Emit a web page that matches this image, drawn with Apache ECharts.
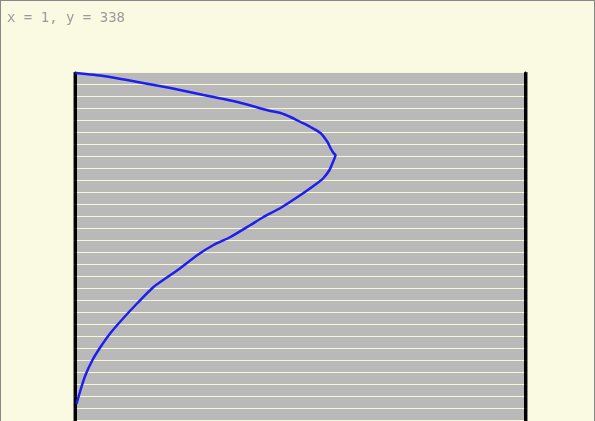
<!DOCTYPE html>
<html>
<head>
<meta charset="utf-8">
<script src="https://cdn.jsdelivr.net/npm/echarts@6/dist/echarts.min.js"></script>
<style>
html,body{margin:0;padding:0;background:#fafae2;}
#wrap{position:relative;width:595px;height:421px;}
#chart{position:absolute;left:0;top:0;width:595px;height:421px;}
#frame{position:absolute;left:0;top:0;width:593px;height:421px;border-left:1px solid #888;border-top:1px solid #888;border-right:1px solid #888;pointer-events:none;}
</style>
</head>
<body>
<div id="wrap"><div id="chart"></div><div id="frame"></div></div>
<script>
const titleText = 'x = 1, y = 338';
const curveX = [0, 28, 62, 95, 128, 162, 195, 205, 215, 225, 235, 245, 252, 255, 258, 260, 257, 254, 248, 242, 228, 205, 188, 175, 155, 138, 122, 105, 95, 78, 62, 48, 35, 25, 17, 10, 5, 1];
const curveY = [1, 4, 10, 16, 23, 30, 39, 41, 45, 50, 55, 61, 70, 76, 81, 83, 91, 98, 106, 111, 121, 136, 145, 153, 165, 173, 183, 196, 203, 215, 231, 246, 261, 275, 288, 303, 318, 332];
const xRange = [0, 450];
const yRange = [0, 360];
const yStep = 12;

const chart = echarts.init(document.getElementById('chart'), null, {renderer: 'canvas'});
const points = curveX.map((x, i) => [x, curveY[i]]);
const yAxisBase = {
  type: 'value', inverse: true, min: yRange[0], max: yRange[1], interval: yStep,
  axisLine: {show: true, lineStyle: {color: '#000', width: 3, type: [11, 1], dashOffset: 11}},
  axisTick: {show: false}, axisLabel: {show: false},
  splitLine: {show: true, lineStyle: {color: '#f6f6d8', width: 1}}
};
chart.setOption({
  backgroundColor: '#fafae2',
  animation: false,
  title: {
    text: titleText, left: 7, top: 11, padding: 0,
    textStyle: {fontFamily: 'DejaVu Sans Mono', fontSize: 14, fontWeight: 'normal', color: '#9a9a9a'}
  },
  grid: {left: 75.5, top: 72, width: 450, height: 360, outerBoundsMode: 'none', containLabel: false,
         show: true, backgroundColor: '#b9b9b9', borderWidth: 0},
  xAxis: {
    type: 'value', min: xRange[0], max: xRange[1],
    axisLine: {show: false}, axisTick: {show: false}, axisLabel: {show: false}, splitLine: {show: false}
  },
  yAxis: [
    Object.assign({}, yAxisBase, {position: 'left'}),
    Object.assign({}, yAxisBase, {position: 'right'})
  ],
  graphic: [
    {type: 'line', shape: {x1: 73.5, y1: 72, x2: 73.5, y2: 421}, style: {stroke: '#888', lineWidth: 1}, z: 100},
    {type: 'line', shape: {x1: 527.5, y1: 72, x2: 527.5, y2: 421}, style: {stroke: '#888', lineWidth: 1}, z: 100}
  ],
  series: [{
    type: 'line', data: points, yAxisIndex: 0, showSymbol: false, symbol: 'none',
    smooth: 0.2, lineStyle: {color: '#1e1ef0', width: 2.5}
  }]
});
</script>
</body>
</html>
